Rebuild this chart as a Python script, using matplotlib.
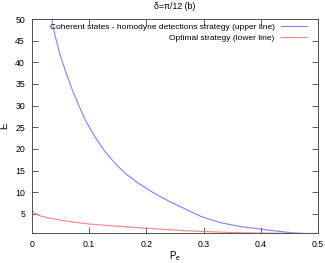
import matplotlib
matplotlib.use("Agg")
import matplotlib.pyplot as plt
import numpy as np

plt.rcParams['font.family'] = ['Liberation Sans', 'DejaVu Sans']

title = "δ=π/12 (b)"
label_upper = "Coherent states - homodyne detections strategy (upper line)"
label_lower = "Optimal strategy (lower line)"

pe_upper = [0.0344, 0.0402, 0.049, 0.0577, 0.0694, 0.081, 0.0935, 0.110, 0.1276,
            0.145, 0.1626, 0.186, 0.209, 0.2325, 0.259, 0.294, 0.329, 0.364,
            0.399, 0.434, 0.457, 0.48, 0.5]
e_upper = [50.0, 46.3, 41.7, 38.3, 34.0, 30.3, 26.6, 22.8, 19.4,
           16.7, 14.4, 12.1, 10.15, 8.4, 6.7, 4.5, 3.0, 2.1,
           1.5, 0.95, 0.62, 0.45, 0.4]

pe_lower = [0.0, 0.0105, 0.028, 0.063, 0.098, 0.150, 0.2, 0.224, 0.259, 0.3, 0.35, 0.4, 0.45, 0.5]
e_lower = [5.7, 4.7, 4.1, 3.3, 2.7, 2.15, 1.7, 1.5, 1.2, 0.95, 0.7, 0.58, 0.52, 0.5]

xticks = [0, 0.1, 0.2, 0.3, 0.4, 0.5]
xticklabels = ["0", "0.1", "0.2", "0.3", "0.4", "0.5"]
yticks = [5, 10, 15, 20, 25, 30, 35, 40, 45, 50]

fig = plt.figure(figsize=(3.25, 2.63), dpi=100)
ax = fig.add_axes([32/325, 1 - 233/263, (318-32)/325, (233-19)/263])

ax.plot(pe_upper, e_upper, color='#8080ff', lw=0.8, label=label_upper)
ax.plot(pe_lower, e_lower, color='#ff8080', lw=0.8, label=label_lower)

ax.set_xlim(0, 0.5)
ax.set_ylim(0.6, 50)
ax.set_xticks(xticks)
ax.set_xticklabels(xticklabels)
ax.set_yticks(yticks)
ax.tick_params(direction='in', top=True, right=True, labelsize=6.3, length=4, width=0.6,
               color='#404040', pad=5)
for s in ax.spines.values():
    s.set_linewidth(0.7)
    s.set_color('#505050')

ax.set_xlabel("P$_\\mathregular{e}$", fontsize=7, labelpad=0.5)
ax.set_ylabel("E", fontsize=7, labelpad=4)
ax.set_title(title, fontsize=6.3, pad=7)

leg = ax.legend(loc='upper right', bbox_to_anchor=(0.974, 0.995), borderaxespad=0,
                fontsize=6.0, frameon=False, markerfirst=False,
                handlelength=3.2, handletextpad=0.7,
                labelspacing=0.3, alignment='right')
for t in leg.get_texts():
    t.set_ha('right')

fig.savefig("out.png", dpi=100)
